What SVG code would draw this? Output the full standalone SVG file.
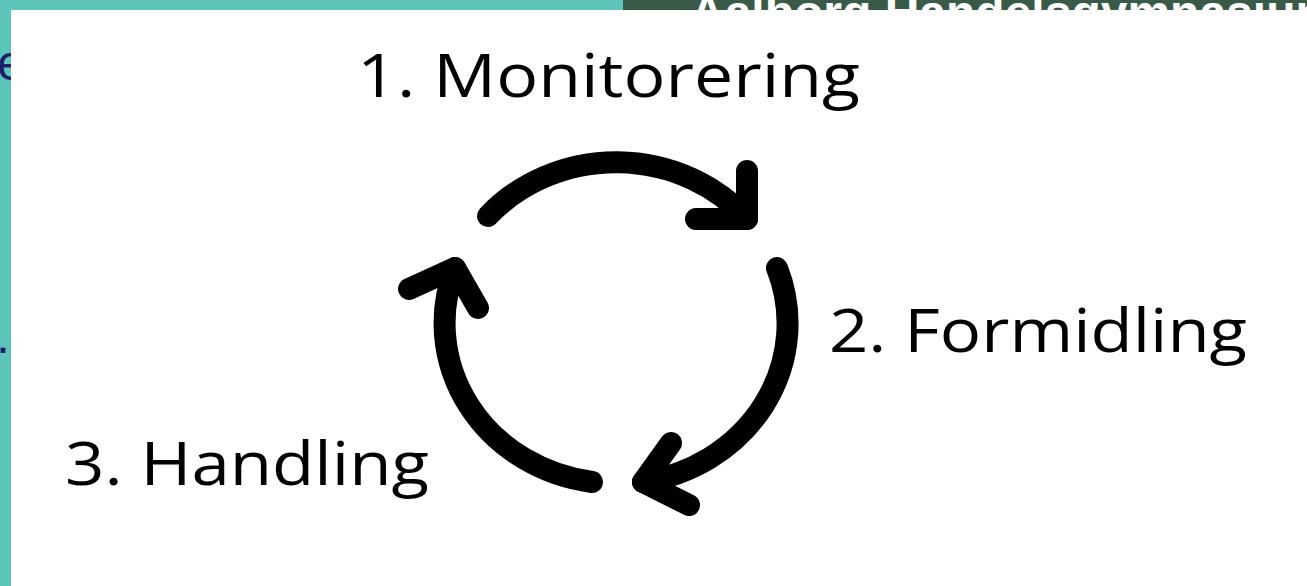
<svg xmlns="http://www.w3.org/2000/svg" width="1307" height="586" viewBox="0 0 1307 586">
<style>
.lbl{font-family:"Open Sans","Noto Sans","Liberation Sans",sans-serif;font-size:60px;fill:#000}
.arc{fill:none;stroke:#000;stroke-width:22;stroke-linecap:round;stroke-linejoin:round}
</style>
<rect x="0" y="0" width="1307" height="586" fill="#5cc4b9"/>
<rect x="623" y="0" width="684" height="10" fill="#385a46"/>
<text x="690" y="29" font-family="Liberation Sans, Arial, sans-serif" font-weight="bold" font-size="48" fill="#ffffff">Aalborg Handelsgymnasium</text>
<text x="-3" y="80" font-family="Liberation Sans, Arial, sans-serif" font-size="50" fill="#1d1f6e">e</text>
<text x="-4" y="353" font-family="Liberation Sans, Arial, sans-serif" font-size="50" fill="#1d1f6e">.</text>
<rect x="11" y="10" width="1296" height="576" fill="#ffffff"/>
<g id="connectors">
<path class="arc" d="M488,216 A171.5,160.5 0 0 1 747,219"/>
<path class="arc" d="M747,171 L747,219 L696,219"/>
<path class="arc" d="M777,268 A171.5,160.5 0 0 1 643,482"/>
<path class="arc" d="M671,443 L643,482 L689,505"/>
<path class="arc" d="M592,482 A171.5,160.5 0 0 1 455,268"/>
<path class="arc" d="M409,289 L455,268 L478,308"/>
</g>
<g id="node-monitorering"><text class="lbl" x="357" y="97" textLength="503" lengthAdjust="spacingAndGlyphs">1. Monitorering</text></g>
<g id="node-formidling"><text class="lbl" x="829" y="352" textLength="418" lengthAdjust="spacingAndGlyphs">2. Formidling</text></g>
<g id="node-handling"><text class="lbl" x="65" y="485" textLength="364" lengthAdjust="spacingAndGlyphs">3. Handling</text></g>
</svg>
